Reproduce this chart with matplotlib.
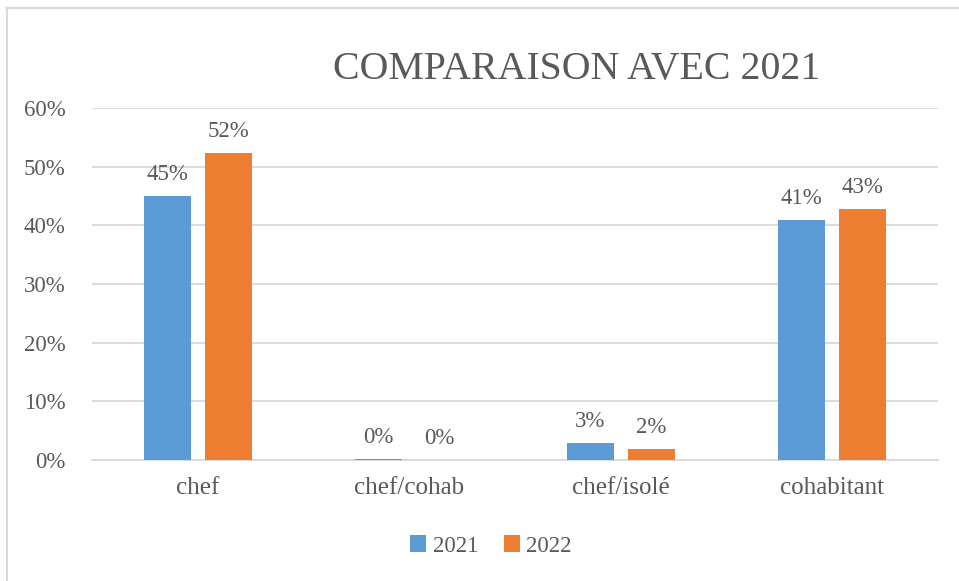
import matplotlib.pyplot as plt
import numpy as np
from matplotlib.lines import Line2D
from matplotlib.ticker import PercentFormatter

categories = ['chef', 'chef/cohab', 'chef/isolé', 'cohabitant']
years = ['2021', '2022']
vals_2021 = [0.450, 0.002, 0.029, 0.409]
vals_2022 = [0.523, 0.000, 0.019, 0.428]
colors = ['#5B9BD5', '#ED7D31']

txt = '#595959'
plt.rcParams['font.family'] = 'Liberation Serif'

fig = plt.figure(figsize=(9.59, 5.81), dpi=100)
ax = fig.add_axes([92/959, 1-460/581, (938-92)/959, (460-108)/581])

x = np.arange(len(categories))
w = 0.222
off = 0.144
for vals, c, yr, sgn in [(vals_2021, colors[0], years[0], -1), (vals_2022, colors[1], years[1], 1)]:
    bars = ax.bar(x + sgn*off, vals, w, color=c, label=yr, zorder=3)
    for b, v in zip(bars, vals):
        ax.annotate('{:.0%}'.format(v), (b.get_x() + b.get_width()/2, v),
                    xytext=(0, 8), textcoords='offset points',
                    ha='center', va='bottom', fontsize=16.5, color=txt)

ax.set_xlim(-0.5, 3.5)
ax.set_ylim(0, 0.6)
ax.set_yticks(np.arange(0, 0.61, 0.1))
ax.yaxis.set_major_formatter(PercentFormatter(1.0, decimals=0))
ax.set_xticks(x)
ax.set_xticklabels(categories, fontsize=18)
ax.tick_params(axis='both', length=0, labelcolor=txt)
ax.tick_params(axis='y', pad=19, labelsize=16.5)
ax.tick_params(axis='x', pad=12)
ax.grid(axis='y', color='#D9D9D9', linewidth=1.3, zorder=0)
for s in ['top', 'right', 'left']:
    ax.spines[s].set_visible(False)
ax.spines['bottom'].set_color('#D9D9D9')
ax.spines['bottom'].set_linewidth(1.3)

fig.text(577/959, 1-70/581, 'COMPARAISON AVEC 2021', ha='center', va='center',
         fontsize=28.7, color=txt)

ax.legend(loc='center', bbox_to_anchor=(491/959, 1-546/581), bbox_transform=fig.transFigure,
          ncol=2, frameon=False, fontsize=16.5, labelcolor=txt,
          handlelength=0.7, handleheight=0.7, handletextpad=0.3, columnspacing=1.1)

# chart frame
fig.add_artist(Line2D([6/959, 958/959], [1-7.5/581, 1-7.5/581], transform=fig.transFigure,
                      color='#D9D9D9', linewidth=1.5))
fig.add_artist(Line2D([6.5/959, 6.5/959], [0, 1-7.5/581], transform=fig.transFigure,
                      color='#D9D9D9', linewidth=1.5))

fig.savefig('out.png', dpi=100)
